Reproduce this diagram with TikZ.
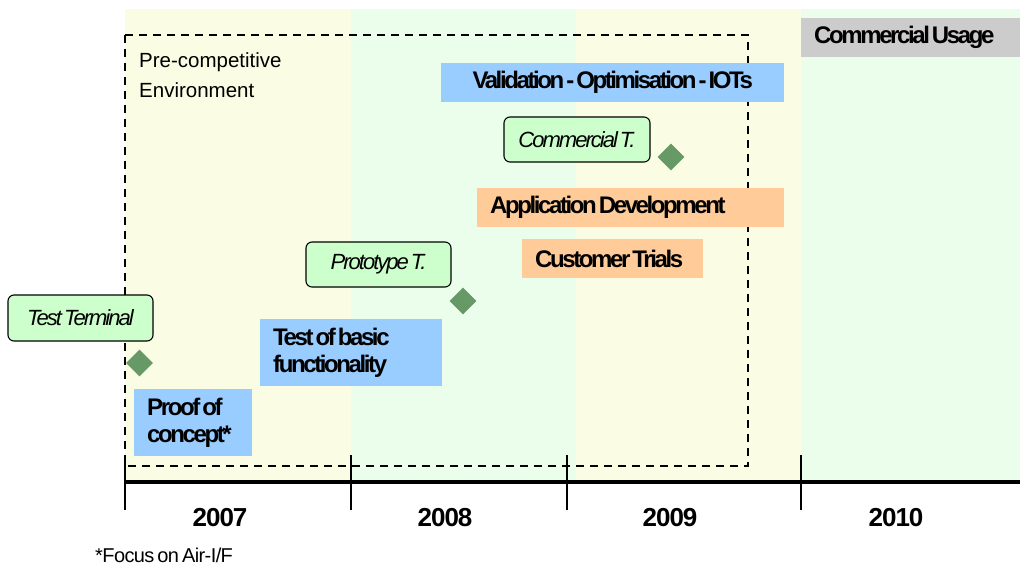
\documentclass[tikz,border=0pt]{standalone}
\usepackage{fontspec}
\setmainfont{Liberation Sans}
\newfontfamily\tightfont{Liberation Sans}[LetterSpace=-10]
\newfontfamily\slantfont{Liberation Sans}[LetterSpace=-9]
\newfontfamily\yearfont{Liberation Sans}[LetterSpace=-4]
\newfontfamily\notefont{Liberation Sans}[LetterSpace=-3]
\newcommand\barfont{\tightfont\bfseries\fontsize{24}{27}\selectfont}
\newcommand\labelfont{\slantfont\itshape\fontsize{22}{26}\selectfont}
\newcommand\footfont{\notefont\fontsize{20}{24}\selectfont}
% narrow word gap
\newcommand\gap{\hskip 2pt\relax}
\usetikzlibrary{shapes.geometric, positioning}

\definecolor{bandyellow}{RGB}{250,252,227}
\definecolor{bandgreen}{RGB}{235,254,235}
\definecolor{barblue}{HTML}{99CCFF}
\definecolor{barorange}{HTML}{FFCC99}
\definecolor{bargrey}{HTML}{CCCCCC}
\definecolor{labelgreen}{HTML}{CCFFCC}
\definecolor{stonegreen}{HTML}{669966}

\begin{document}
\begin{tikzpicture}[x=1pt,y=-1pt,
  bar/.style={rectangle,anchor=north west,inner xsep=13pt,inner ysep=0pt,align=left,font=\barfont},
  tlabel/.style={rectangle,rounded corners=6pt,draw=black,line width=1.1pt,fill=labelgreen,
    inner sep=0pt,font=\labelfont},
  milestone/.style={diamond,fill=stonegreen,inner sep=0pt,minimum width=27pt,minimum height=27pt},
  year/.style={font=\yearfont\bfseries\fontsize{26}{30}\selectfont},
  yeartick/.style={line width=2.5pt}]

  \useasboundingbox (0,0) rectangle (1020,567);

  % year bands
  \fill[bandyellow] (125,9) rectangle (351,482);
  \fill[bandgreen] (351,9) rectangle (576,482);
  \fill[bandyellow] (576,9) rectangle (801,482);
  \fill[bandgreen] (801,9) rectangle (1020,482);

  % pre-competitive phase
  \draw[line width=2.2pt,dash pattern=on 8pt off 6pt] (125,35) rectangle (748,466);
  \node[anchor=north west,inner sep=0pt,align=left,font=\fontsize{20.5}{30}\selectfont]
    (precomp) at (139,52) {Pre-competitive\\Environment};

  % activities
  \node[bar,fill=bargrey,text width=193pt,minimum height=39pt] (usage) at (801,18) {Commercial\gap Usage};
  \node[bar,fill=barblue,text width=317pt,minimum height=39pt,align=center] (valid) at (441,63) {Validation\gap-\gap Optimisation\gap-\gap IOTs};
  \node[bar,fill=barorange,text width=281pt,minimum height=39pt] (appdev) at (477,188) {Application\gap Development};
  \node[bar,fill=barorange,text width=155pt,minimum height=39pt] (trials) at (522,239) {Customer\gap Trials};
  \node[bar,fill=barblue,text width=156pt,minimum height=67pt] (basic) at (260,319) {Test\gap of\gap basic\\functionality};
  \node[bar,fill=barblue,text width=92pt,minimum height=67pt] (proof) at (134,389) {Proof\gap of\\concept*};

  % terminals
  \node[tlabel,minimum width=145pt,minimum height=46pt] (testterm) at (80.5,318) {Test\gap Terminal};
  \node[milestone] (mtest) at (139.5,363) {};
  \node[tlabel,minimum width=145pt,minimum height=45pt] (prototype) at (378.5,264.5) {Prototype\gap T.};
  \node[milestone] (mproto) at (463,301) {};
  \node[tlabel,minimum width=146pt,minimum height=45pt] (commt) at (577,139.5) {Commercial\gap T.};
  \node[milestone] (mcomm) at (671,157) {};

  % time axis
  \coordinate (axisstart) at (125,482);
  \coordinate (axisend) at (1020,482);
  \draw[line width=3.5pt] (axisstart) -- (axisend);
  \foreach \x in {125,351,567,801}
    \draw[yeartick] (\x,455) -- (\x,510);

  \node[year] (y2007) at (220,518) {2007};
  \node[year] (y2008) at (445,518) {2008};
  \node[year] (y2009) at (670,518) {2009};
  \node[year] (y2010) at (896,518) {2010};

  \node[anchor=base west,inner sep=0pt,font=\footfont] (note) at (95,562) {*Focus\hskip3pt on\hskip3pt Air-I/F};
\end{tikzpicture}
\end{document}
